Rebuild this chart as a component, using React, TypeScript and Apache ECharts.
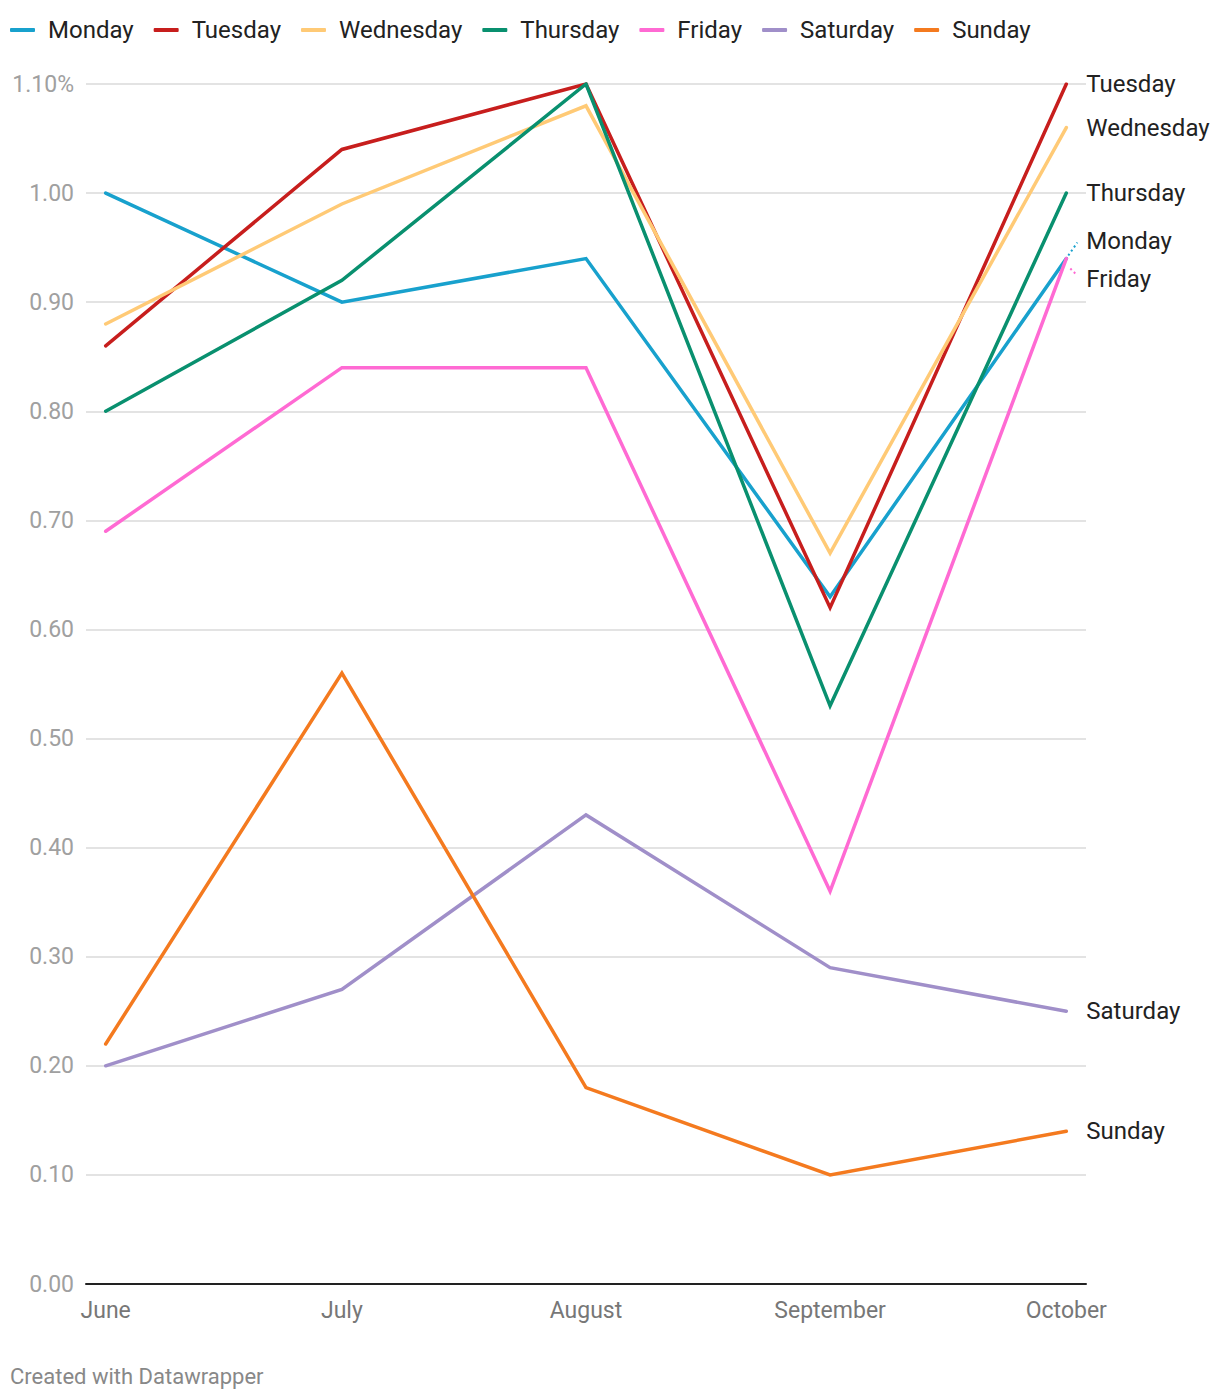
import React, { useEffect, useRef } from "react";
import * as echarts from "echarts";

const months = ["June", "July", "August", "September", "October"];
const monthStarts = ["2024-06-01", "2024-07-01", "2024-08-01", "2024-09-01", "2024-10-01"];

const monday = [1.0, 0.9, 0.94, 0.63, 0.94];
const tuesday = [0.86, 1.04, 1.1, 0.62, 1.1];
const wednesday = [0.88, 0.99, 1.08, 0.67, 1.06];
const thursday = [0.8, 0.92, 1.1, 0.53, 1.0];
const friday = [0.69, 0.84, 0.84, 0.36, 0.94];
const saturday = [0.2, 0.27, 0.43, 0.29, 0.25];
const sunday = [0.22, 0.56, 0.18, 0.1, 0.14];

const yTicks = [0, 0.1, 0.2, 0.3, 0.4, 0.5, 0.6, 0.7, 0.8, 0.9, 1.0, 1.1];

const seriesDefs = [
  { name: "Monday", data: monday, color: "#18a1cd", labelDy: -18 },
  { name: "Tuesday", data: tuesday, color: "#c71e1d", labelDy: 0 },
  { name: "Wednesday", data: wednesday, color: "#ffca76", labelDy: 0 },
  { name: "Thursday", data: thursday, color: "#09906f", labelDy: 0 },
  { name: "Friday", data: friday, color: "#ff6ad3", labelDy: 20 },
  { name: "Saturday", data: saturday, color: "#a08fc9", labelDy: 0 },
  { name: "Sunday", data: sunday, color: "#f47a1f", labelDy: 0 },
];

const DAY = 86400000;
const dayOffsets = monthStarts.map(
  (d) => (Date.parse(d + "T00:00:00Z") - Date.parse(monthStarts[0] + "T00:00:00Z")) / DAY
);

const FONT = "Roboto";

export default function App() {
  const ref = useRef<HTMLDivElement>(null);

  useEffect(() => {
    if (!ref.current) return;
    const chart = echarts.init(ref.current, null, { renderer: "svg" });

    const option: any = {
      animation: false,
      backgroundColor: "#ffffff",
      textStyle: { fontFamily: FONT },
      legend: {
        left: 10,
        top: 18,
        padding: 0,
        itemWidth: 25,
        itemHeight: 4,
        itemGap: 20,
        icon: "roundRect",
        textStyle: {
          fontFamily: FONT,
          fontSize: 24,
          color: "#222222",
          padding: [0, 0, 0, 8],
        },
        data: seriesDefs.map((s) => s.name),
      },
      grid: {
        left: 86,
        right: 134,
        top: 84,
        bottom: 116,
        containLabel: false,
        outerBoundsMode: "none",
      },
      xAxis: {
        type: "value",
        min: -2.5,
        max: 124.5,
        axisLine: { show: true, lineStyle: { color: "#222222", width: 2 } },
        axisTick: { show: false },
        splitLine: { show: false },
        axisLabel: {
          customValues: dayOffsets,
          margin: 15,
          fontFamily: FONT,
          fontSize: 23,
          color: "#777777",
          formatter: (v: number) => {
            const i = dayOffsets.indexOf(v);
            return i >= 0 ? months[i] : "";
          },
        },
      },
      yAxis: {
        type: "value",
        min: 0,
        max: 1.1,
        interval: 0.1,
        axisLine: { show: false },
        axisTick: { show: false },
        splitLine: { show: true, lineStyle: { color: "#e3e3e3", width: 2 } },
        axisLabel: {
          margin: 12,
          fontFamily: FONT,
          fontSize: 23,
          color: "#a0a0a0",
          formatter: (v: number) => {
            const top = yTicks[yTicks.length - 1];
            return Math.abs(v - top) < 1e-6 ? v.toFixed(2) + "%" : v.toFixed(2);
          },
        },
      },
      series: seriesDefs.map((s) => ({
        name: s.name,
        type: "line",
        data: s.data.map((v, i) => [dayOffsets[i], v]),
        showSymbol: false,
        symbol: "none",
        color: s.color,
        lineStyle: { color: s.color, width: 3.5, cap: "round", join: "miter" },
        itemStyle: { color: s.color },
        endLabel: {
          show: true,
          formatter: "{a}",
          distance: 20,
          offset: [0, s.labelDy],
          fontFamily: FONT,
          fontSize: 24,
          color: "#222222",
        },
        emphasis: { disabled: true },
      })),
      graphic: [
        {
          type: "text",
          left: 10,
          top: 1365,
          style: {
            text: "Created with Datawrapper",
            fontFamily: FONT,
            fontSize: 22,
            fill: "#888888",
          },
        },
      ],
    };

    chart.setOption(option);

    // dotted leader lines for shifted end labels
    const leaders: any[] = [];
    seriesDefs.forEach((s, idx) => {
      if (s.labelDy === 0) return;
      const last = s.data.length - 1;
      const p = chart.convertToPixel({ seriesIndex: idx }, [dayOffsets[last], s.data[last]]) as number[];
      const up = s.labelDy < 0;
      leaders.push({
        type: "line",
        shape: up
          ? { x1: p[0] + 2, y1: p[1] - 3, x2: p[0] + 11, y2: p[1] - 16 }
          : { x1: p[0] + 4, y1: p[1] + 10, x2: p[0] + 11, y2: p[1] + 17 },
        style: { stroke: s.color, lineWidth: 2, lineDash: [2, 3] },
        silent: true,
      });
    });
    chart.setOption({ graphic: [option.graphic[0], ...leaders] });

    return () => chart.dispose();
  }, []);

  return (
    <div
      ref={ref}
      style={{ position: "absolute", left: 0, top: 0, width: 1220, height: 1400 }}
    />
  );
}
